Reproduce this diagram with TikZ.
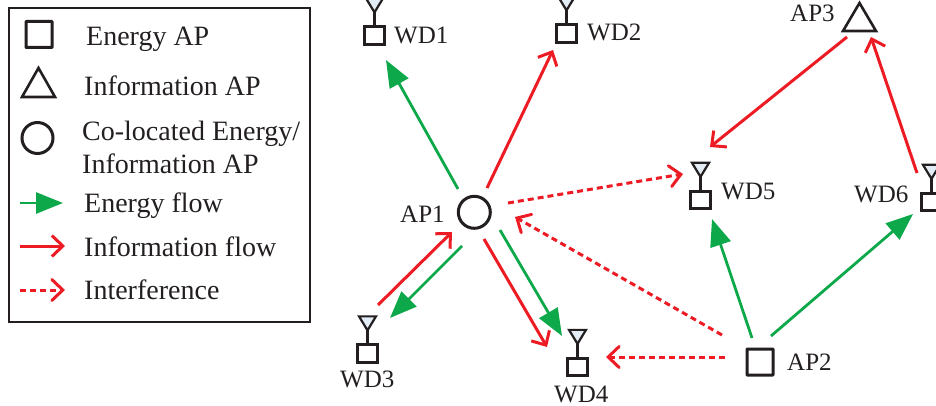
\documentclass[tikz,border=0pt]{standalone}
\usepackage{fontspec}
\setmainfont{Liberation Serif}
\usetikzlibrary{arrows.meta,calc,shapes.geometric}
\definecolor{ink}{HTML}{231F20}
\definecolor{flowgreen}{HTML}{0DA84A}
\definecolor{flowred}{HTML}{ED1C24}
\definecolor{antfill}{HTML}{E4ECF6}
\tikzset{
  txt/.style={inner sep=0pt,anchor=base west,text=ink,font=\fontsize{25}{25}\selectfont},
  lgtxt/.style={txt,font=\fontsize{28}{28}\selectfont},
  sqap/.style={draw=ink,line width=3pt,minimum width=26pt,minimum height=26pt,inner sep=0pt,rounded corners=0.5pt},
  triap/.style={draw=ink,line width=2.6pt,line join=miter,fill=white},
  cirap/.style={draw=ink,line width=3pt,circle,minimum size=31pt,inner sep=0pt},
  wdbox/.style={draw=ink,line width=2.8pt,minimum width=19.5pt,minimum height=17.5pt,inner sep=0pt},
  ant/.style={draw=ink,line width=2.2pt,fill=antfill,line join=miter},
  antstem/.style={draw=ink,line width=2.4pt},
  genergy/.style={draw=flowgreen,line width=2.8pt,-{Triangle[length=27pt,width=21pt,fill=flowgreen]}},
  rinfo/.style={draw=flowred,line width=3pt,-{Straight Barb[length=11pt,width=21pt,line width=3pt]}},
  rint/.style={draw=flowred,line width=3pt,dash pattern=on 6pt off 4pt,-{Straight Barb[length=11pt,width=21pt,line width=3pt,line cap=round]}},
}
% device: square node #1 centred at (#2,#3), antenna above it
\newcommand{\wdevice}[3]{
  \node[wdbox] (#1) at (#2,#3) {};
  \draw[antstem] (#1.north) -- ++(0,-14);
  \draw[ant] ($(#1.north)+(-8.5,-27)$) -- ($(#1.north)+(8.5,-27)$) -- ($(#1.north)+(0,-13)$) -- cycle;
}
\begin{document}
\begin{tikzpicture}[x=1pt,y=-1pt]
\useasboundingbox (0,0) rectangle (936,406);
% legend
\node[draw=ink,line width=1.8pt,minimum width=301pt,minimum height=314pt,inner sep=0pt] (legend) at (159.5,165) {};
\node[sqap] (lgsq) at (39,34.5) {};
\draw[triap] (38.5,68) -- (55,97) -- (22,97) -- cycle;
\node[cirap] (lgcir) at (37.5,138) {};
\coordinate (lga1) at (20,203); \coordinate (lgb1) at (63,203);
\coordinate (lga2) at (20,246); \coordinate (lgb2) at (65,246);
\coordinate (lga3) at (20,290); \coordinate (lgb3) at (65,290);
\draw[genergy] (lga1) -- (lgb1);
\draw[rinfo] (lga2) -- (lgb2);
\draw[rint] (lga3) -- (lgb3);
\node[lgtxt] (t1) at (86,46) {Energy AP};
\node[lgtxt] (t2) at (84,96) {Information AP};
\node[lgtxt] (t3) at (82,141) {Co-located Energy/};
\node[lgtxt] (t4) at (82,174) {Information AP};
\node[lgtxt] (t5) at (84,212) {Energy flow};
\node[lgtxt] (t6) at (84,256) {Information flow};
\node[lgtxt] (t7) at (84,299) {Interference};
% access points
\node[cirap,minimum size=32pt] (ap1) at (474.3,212.3) {};
\node[sqap] (ap2) at (760,362) {};
\coordinate (ap3) at (859.5,20);
\draw[triap] (859.5,3) -- (876,31) -- (843,31) -- cycle;
\node[txt] (lap1) at (400,222) {AP1};
\node[txt] (lap2) at (787,370) {AP2};
\node[txt] (lap3) at (790,22) {AP3};
% devices
\wdevice{wd1}{374.5}{35.5}
\wdevice{wd2}{566.5}{33.5}
\wdevice{wd3}{367.5}{353.5}
\wdevice{wd4}{577.5}{367}
\wdevice{wd5}{700.5}{200}
\wdevice{wd6}{931.5}{202}
\node[txt] (lwd1) at (394,44) {WD1};
\node[txt] (lwd2) at (587,41) {WD2};
\node[txt] (lwd3) at (340,387) {WD3};
\node[txt] (lwd4) at (554,402) {WD4};
\node[txt] (lwd5) at (721,200) {WD5};
\node[txt] (lwd6) at (854,202) {WD6};
% connectors (parallel flows are offset from the node centres)
\draw[genergy] ($(ap1)+(-16.3,-23.3)$) -- ($(wd1)+(11.5,24.5)$);
\draw[rinfo]   ($(ap1)+(12.7,-24.3)$) -- ($(wd2)+(-13.5,16.5)$);
\draw[genergy] ($(ap1)+(-12.3,33.7)$) -- ($(wd3)+(22.5,-35.5)$);
\draw[rinfo]   ($(wd3)+(10.5,-48.5)$) -- ($(ap1)+(-22.3,19.7)$);
\draw[rinfo]   ($(ap1)+(9.7,26.7)$) -- ($(wd4)+(-30.5,-20)$);
\draw[genergy] ($(ap1)+(25.7,17.7)$) -- ($(wd4)+(-15.5,-31)$);
\draw[rint]    ($(ap1)+(33.7,-9.3)$) -- ($(wd5)+(-17.5,-26)$);
\draw[rint]    ($(ap2)+(-38,-27)$) -- ($(ap1)+(40.7,4.7)$);
\draw[rint]    ($(ap2)+(-35,-5)$) -- ($(wd4)+(28.5,-10)$);
\draw[genergy] ($(ap2)+(-8,-24)$) -- ($(wd5)+(11.5,19)$);
\draw[genergy] ($(ap2)+(11,-26)$) -- ($(wd6)+(-18.5,12)$);
\draw[rinfo]   ($(ap3)+(-12.5,17)$) -- ($(wd5)+(9.5,-53)$);
\draw[rinfo]   ($(wd6)+(-14.5,-29)$) -- ($(ap3)+(11.5,17)$);
\end{tikzpicture}
\end{document}
